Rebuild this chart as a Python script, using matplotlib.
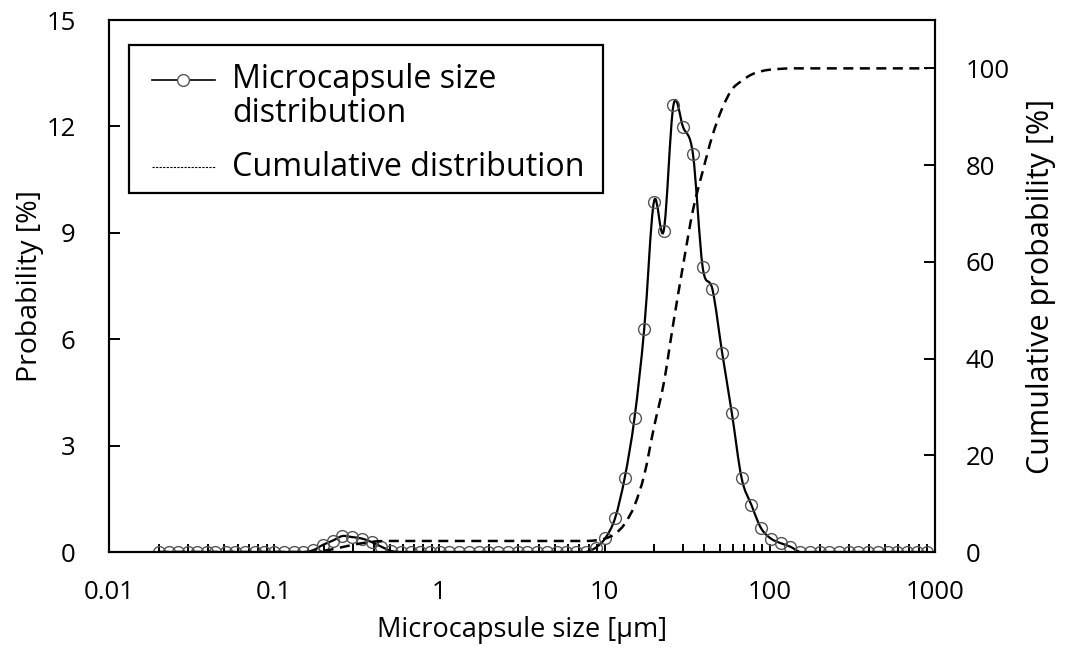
import matplotlib
matplotlib.use('Agg')
import numpy as np
import matplotlib.pyplot as plt
from matplotlib.lines import Line2D
from matplotlib.patches import Rectangle, PathPatch
from matplotlib.path import Path

plt.rcParams['font.family'] = ['Open Sans', 'DejaVu Sans']

size_um = [0.020, 0.023, 0.026, 0.030, 0.034, 0.039, 0.044, 0.051, 0.058, 0.067, 0.076, 0.087,
           0.100, 0.115, 0.131, 0.150, 0.172, 0.197, 0.226, 0.259, 0.296, 0.339, 0.389, 0.445,
           0.510, 0.584, 0.669, 0.766, 0.877,
           1.005, 1.151, 1.318, 1.510, 1.729, 1.981, 2.269, 2.599, 2.976, 3.409, 3.905, 4.472,
           5.122, 5.867, 6.720, 7.697, 8.816,
           10.097, 11.565, 13.246, 15.172, 17.377, 19.904, 22.797, 26.111, 29.907, 34.255,
           39.234, 44.938, 51.471, 58.953, 67.523, 77.339, 88.583,
           101.46, 116.21, 133.10, 152.45, 174.62, 200.00, 229.07, 262.37, 300.51, 344.19,
           394.23, 451.54, 517.19, 592.36, 678.47, 777.11, 890.08]

probability = [0, 0, 0, 0, 0, 0, 0, 0, 0, 0, 0, 0,
               0, 0, 0, 0, 0.05, 0.20, 0.32, 0.45, 0.42, 0.38, 0.28, 0.15,
               0.03, 0, 0, 0, 0,
               0, 0, 0, 0, 0, 0, 0, 0, 0, 0, 0, 0,
               0, 0, 0, 0, 0.12,
               0.39, 0.95, 2.10, 3.78, 6.30, 9.88, 9.06, 12.60, 11.97, 11.22,
               8.03, 7.41, 5.62, 3.91, 2.08, 1.33, 0.67,
               0.38, 0.25, 0.15, 0, 0, 0, 0, 0, 0, 0,
               0, 0, 0, 0, 0, 0, 0]

cumulative = [0, 0, 0, 0, 0, 0, 0, 0, 0, 0, 0, 0,
              0, 0, 0, 0, 0.05, 0.25, 0.57, 1.02, 1.44, 1.82, 2.10, 2.25,
              2.28, 2.28, 2.28, 2.28, 2.28,
              2.28, 2.28, 2.28, 2.28, 2.28, 2.28, 2.28, 2.28, 2.28, 2.28, 2.28, 2.28,
              2.28, 2.28, 2.28, 2.28, 2.40,
              2.79, 3.74, 5.84, 9.62, 15.92, 25.80, 34.86, 47.46, 59.43, 70.65,
              78.68, 86.09, 91.71, 95.62, 97.40, 98.70, 99.40,
              99.75, 99.90, 100, 100, 100, 100, 100, 100, 100, 100,
              100, 100, 100, 100, 100, 100, 100]

x_ticks = [0.01, 0.1, 1, 10, 100, 1000]
x_tick_labels = ['0.01', '0.1', '1', '10', '100', '1000']
left_ticks = [0, 3, 6, 9, 12, 15]
right_ticks = [0, 20, 40, 60, 80, 100]


def smooth_path(xs, ys):
    """Excel-like smoothed line (Catmull-Rom Bezier) through the data points, in log-x space."""
    lx = np.log10(np.asarray(xs, float))
    y = np.asarray(ys, float)
    n = len(lx)
    verts = [(xs[0], y[0])]
    codes = [Path.MOVETO]
    for i in range(n - 1):
        i0 = max(i - 1, 0)
        i3 = min(i + 2, n - 1)
        c1x = lx[i] + (lx[i + 1] - lx[i0]) / 6
        c1y = y[i] + (y[i + 1] - y[i0]) / 6
        c2x = lx[i + 1] - (lx[i3] - lx[i]) / 6
        c2y = y[i + 1] - (y[i3] - y[i]) / 6
        verts += [(10 ** c1x, c1y), (10 ** c2x, c2y), (xs[i + 1], y[i + 1])]
        codes += [Path.CURVE4] * 3
    return Path(verts, codes)


W, H = 1080, 672
fig = plt.figure(figsize=(W / 100, H / 100), dpi=100)
ax = fig.add_axes([109 / W, 1 - 552 / H, (935 - 109) / W, (552 - 20) / H])
ax2 = ax.twinx()

ax.set_xscale('log')
ax.set_xlim(0.01, 1000)
ax.set_ylim(0, 15)
ax2.set_ylim(0, 110)

ax.add_patch(PathPatch(smooth_path(size_um, probability), fill=False, edgecolor='black',
                       lw=1.6, zorder=3))
ax.plot(size_um, probability, ls='none', marker='o', ms=8.5,
        mfc='none', mec='#555555', mew=1.0, zorder=4)
ax2.add_patch(PathPatch(smooth_path(size_um, cumulative), fill=False, edgecolor='black',
                        lw=1.8, ls=(0, (4, 2.6)), zorder=2))

ax.set_xticks(x_ticks)
ax.set_xticklabels(x_tick_labels)
ax.set_yticks(left_ticks)
ax2.set_yticks(right_ticks)

fs = 18.5
for a in (ax, ax2):
    for s in a.spines.values():
        s.set_linewidth(1.5)
ax.tick_params(axis='x', which='major', direction='in', length=6, width=1.4, pad=20, labelsize=fs)
ax.tick_params(axis='x', which='minor', direction='in', length=6, width=1.4)
ax.tick_params(axis='y', direction='in', length=8, width=1.4, pad=24, labelsize=fs)
ax2.tick_params(axis='y', direction='in', length=8, width=1.4, pad=22, labelsize=fs)

ax.set_xlabel('Microcapsule size [µm]', fontsize=19.5, labelpad=8)
ax.set_ylabel('Probability [%]', fontsize=20.5, labelpad=2)
ax2.set_ylabel('Cumulative probability [%]', fontsize=22, labelpad=12)


def fx(px):
    return px / W


def fy(py):
    return 1 - py / H


gfs = 23.2
fig.patches.append(Rectangle((fx(129), fy(193)), fx(603) - fx(129), fy(45) - fy(193),
                             transform=fig.transFigure, fill=True, facecolor='white',
                             edgecolor='black', lw=1.6, zorder=10))
fig.lines.append(Line2D([fx(152), fx(215)], [fy(80), fy(80)], transform=fig.transFigure,
                        color='black', lw=1.2, zorder=11))
fig.lines.append(Line2D([fx(183)], [fy(80)], transform=fig.transFigure, marker='o', ms=8.5,
                        mfc='white', mec='#555555', mew=1.0, zorder=12))
fig.lines.append(Line2D([fx(152), fx(215)], [fy(167), fy(167)], transform=fig.transFigure,
                        color='black', lw=0.8, ls=(0, (2, 1.2)), zorder=11))
fig.text(fx(232), fy(80), 'Microcapsule size', fontsize=gfs, va='center', ha='left', zorder=12)
fig.text(fx(232), fy(114), 'distribution', fontsize=gfs, va='center', ha='left', zorder=12)
fig.text(fx(232), fy(167), 'Cumulative distribution', fontsize=gfs, va='center', ha='left', zorder=12)

fig.savefig('out.png', dpi=100)
